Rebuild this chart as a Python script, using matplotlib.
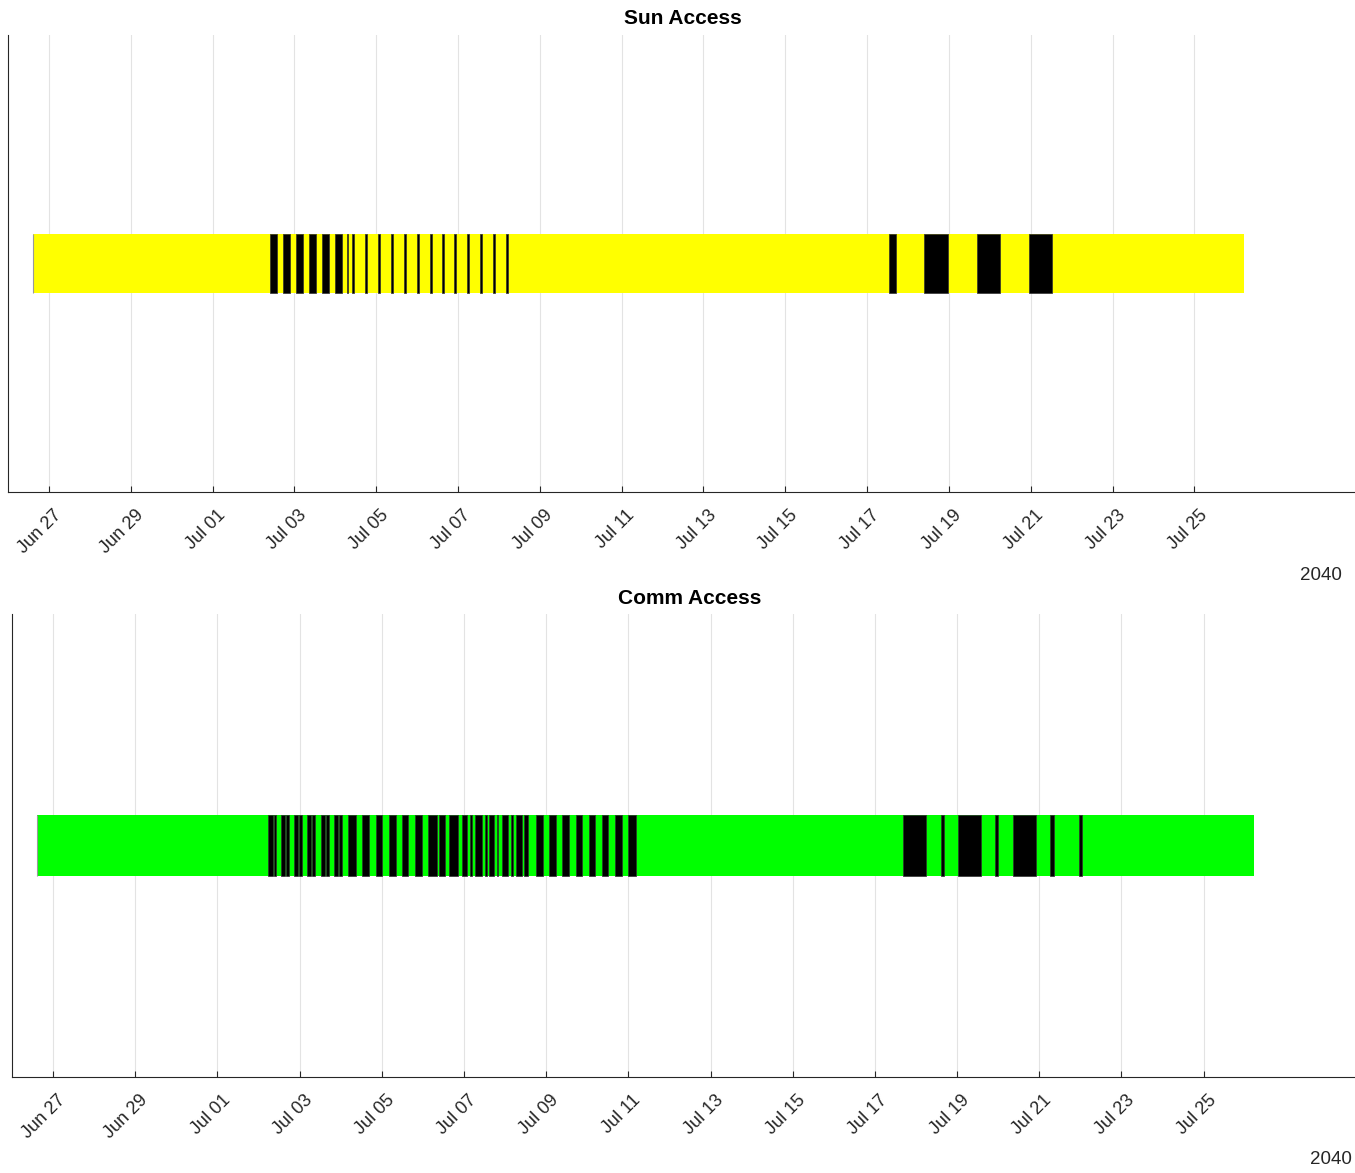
import matplotlib
matplotlib.use("Agg")
import matplotlib.pyplot as plt
import matplotlib.dates as mdates
import matplotlib.transforms as mtransforms
import pandas as pd

plt.rcParams["font.family"] = ["Liberation Sans", "DejaVu Sans"]

# ---------------- data (days after 2040-06-26 00:00) ----------------
EPOCH = "2040-06-26 00:00"
xlim_days = [0.0, 33.0]

tick_dates = ["2040-06-27", "2040-06-29", "2040-07-01", "2040-07-03", "2040-07-05",
              "2040-07-07", "2040-07-09", "2040-07-11", "2040-07-13", "2040-07-15",
              "2040-07-17", "2040-07-19", "2040-07-21", "2040-07-23", "2040-07-25"]
tick_labels = ["Jun 27", "Jun 29", "Jul 01", "Jul 03", "Jul 05", "Jul 07", "Jul 09",
               "Jul 11", "Jul 13", "Jul 15", "Jul 17", "Jul 19", "Jul 21", "Jul 23",
               "Jul 25"]
year_label = "2040"

sun_span = [0.61, 30.22]
sun_dark_start = [6.403, 6.729, 7.039, 7.364, 7.682, 8.000, 8.293,
                  8.40, 8.72, 9.04, 9.36, 9.67, 9.99, 10.31, 10.60, 10.90, 11.21,
                  11.53, 11.85, 12.17,
                  21.538, 22.394, 23.689, 24.954]
sun_dark_end = [6.567, 6.892, 7.203, 7.528, 7.846, 8.156, 8.303,
                8.46, 8.78, 9.10, 9.42, 9.73, 10.05, 10.37, 10.66, 10.96, 11.27,
                11.59, 11.91, 12.23,
                21.716, 22.988, 24.252, 25.516]

comm_span = [0.61, 30.23]
comm_dark_start = [6.235, 6.381, 6.551, 6.668, 6.868, 6.985, 7.185, 7.301, 7.513,
                   7.630, 7.842, 7.959, 8.171, 8.524, 8.865, 9.181, 9.498, 9.814,
                   10.131, 10.399, 10.642, 10.959, 11.153, 11.275, 11.519, 11.616,
                   11.811, 11.933, 12.152, 12.273, 12.468, 12.760, 13.077, 13.394,
                   13.734, 14.051, 14.367, 14.684, 15.001,
                   21.689, 22.597, 23.011, 23.919, 24.358, 25.259, 25.965]
comm_dark_end = [6.362, 6.430, 6.649, 6.746, 6.965, 7.063, 7.282, 7.379, 7.611,
                 7.720, 7.939, 8.037, 8.365, 8.694, 9.011, 9.352, 9.644, 9.985,
                 10.350, 10.545, 10.861, 11.080, 11.202, 11.446, 11.567, 11.738,
                 11.835, 12.079, 12.200, 12.420, 12.566, 12.931, 13.247, 13.564,
                 13.881, 14.197, 14.514, 14.855, 15.195,
                 22.239, 22.678, 23.571, 23.993, 24.911, 25.356, 26.031]

# ---------------- helpers ----------------
epoch = pd.Timestamp(EPOCH)


def to_num(days):
    return mdates.date2num(epoch + pd.to_timedelta(days, unit="D"))


def ranges(starts, ends):
    return [(to_num(s), to_num(e) - to_num(s)) for s, e in zip(starts, ends)]


W, H = 1355, 1173
fig = plt.figure(figsize=(W / 100, H / 100), dpi=100)

axes_px = {
    "sun": (8, 35, 1358, 492),
    "comm": (12, 614, 1368, 1077),
}

panels = [
    ("sun", "Sun Access", "#ffff00", sun_span, sun_dark_start, sun_dark_end,
     (683, 18), (1342, 576)),
    ("comm", "Comm Access", "#00ff00", comm_span, comm_dark_start, comm_dark_end,
     (690, 598), (1352, 1160)),
]

text_col = "#262626"
bar_half = 0.13

for key, title, color, span, ds, de, tpos, ypos in panels:
    l, t, r, b = axes_px[key]
    ax = fig.add_axes([l / W, 1 - b / H, (r - l) / W, (b - t) / H])
    ax.set_xlim(to_num(xlim_days[0]), to_num(xlim_days[1]))
    ax.set_ylim(0, 2)
    ax.set_axisbelow(True)

    ax.broken_barh(ranges([span[0]], [span[1]]), (1 - bar_half, 2 * bar_half),
                   facecolors=color, edgecolor="none", zorder=2)
    ax.broken_barh(ranges(ds, de), (1 - bar_half, 2 * bar_half),
                   facecolors="black", edgecolor="#303030", linewidth=0.5,
                   zorder=3)
    ax.vlines(to_num(span[0]), 1 - bar_half, 1 + bar_half, color="#9a9a9a",
              linewidth=0.8, zorder=4)

    ticks = [mdates.date2num(pd.Timestamp(d)) for d in tick_dates]
    ax.set_xticks(ticks)
    ax.set_xticklabels([])
    trans = mtransforms.blended_transform_factory(ax.transData, ax.transAxes)
    trans = trans + mtransforms.ScaledTranslation(4 / 100, -15 / 100,
                                                  fig.dpi_scale_trans)
    for tx, lab in zip(ticks, tick_labels):
        ax.text(tx, 0, lab, transform=trans, rotation=45, ha="right", va="top",
                rotation_mode="anchor", fontsize=13, color=text_col,
                clip_on=False)
    ax.set_yticks([])
    ax.tick_params(axis="x", direction="in", length=4, width=0.8, color=text_col)
    ax.grid(axis="x", color="#e3e3e3", linewidth=0.8)

    for side in ("top", "right"):
        ax.spines[side].set_visible(False)
    for side in ("left", "bottom"):
        ax.spines[side].set_color(text_col)
        ax.spines[side].set_linewidth(0.8)

    fig.text(tpos[0] / W, 1 - tpos[1] / H, title, ha="center", va="center",
             fontsize=15, fontweight="bold", color="black")
    fig.text(ypos[0] / W, 1 - ypos[1] / H, year_label, ha="right", va="center",
             fontsize=13.5, color=text_col)

fig.savefig("out.png", dpi=100)
